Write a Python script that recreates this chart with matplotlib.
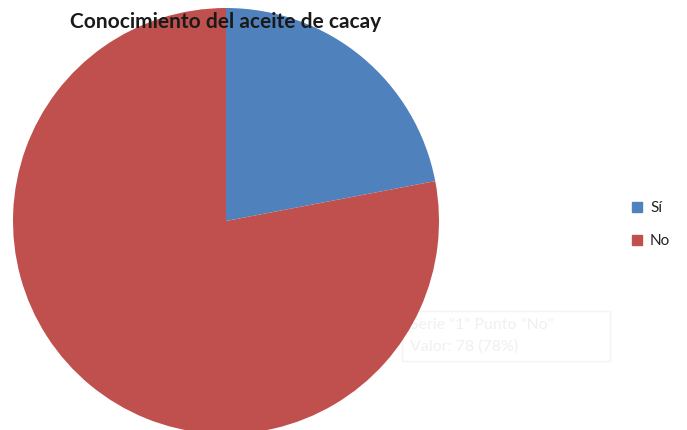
import matplotlib.pyplot as plt
from matplotlib.patches import Rectangle

# Conocimiento del aceite de cacay
labels = ['Sí', 'No']
values = [22, 78]
colors = ['#4F81BD', '#C0504D']

W, H = 687, 431
fig = plt.figure(figsize=(W / 100, H / 100), dpi=100)

# pie centre and radius in pixels
cx, cy, r = 226, 222, 213
ax = fig.add_axes([(cx - r) / W, 1 - (cy + r) / H, 2 * r / W, 2 * r / H])
ax.pie(values, colors=colors, startangle=90, counterclock=False, radius=1,
       wedgeprops=dict(linewidth=0))
ax.set_xlim(-1, 1)
ax.set_ylim(-1, 1)
ax.set_aspect('equal')
ax.axis('off')

fig.text(226 / W, 1 - 22 / H, 'Conocimiento del aceite de cacay', ha='center', va='center',
         fontsize=15, fontweight='bold', family='Lato', color='#1a1a1a', zorder=5)

# legend
for i, (lab, col) in enumerate(zip(labels, colors)):
    y = 208 + i * 33
    fig.patches.append(Rectangle(((637 - 5) / W, 1 - (y + 5) / H), 10 / W, 10 / H,
                                 transform=fig.transFigure, color=col, figure=fig))
    fig.text(650 / W, 1 - y / H, lab, ha='left', va='center', fontsize=11,
             family='Lato', color='#222222')

# faded tooltip box, sitting behind the pie
fig.patches.append(Rectangle((402 / W, 1 - 362 / H), 208 / W, 50 / H, transform=fig.transFigure,
                             facecolor='white', edgecolor='#f3f3f3', linewidth=1, figure=fig,
                             zorder=-2))
fig.text(410 / W, 1 - 325 / H, 'Serie "1" Punto "No"', fontsize=11.5, family='Lato',
         color='#f0f0f0', va='center', zorder=-1)
fig.text(410 / W, 1 - 347 / H, 'Valor: %d (%d%%)' % (values[1], values[1]), fontsize=11.5,
         family='Lato', color='#f0f0f0', va='center', zorder=-1)

fig.savefig('out.png', dpi=100)
